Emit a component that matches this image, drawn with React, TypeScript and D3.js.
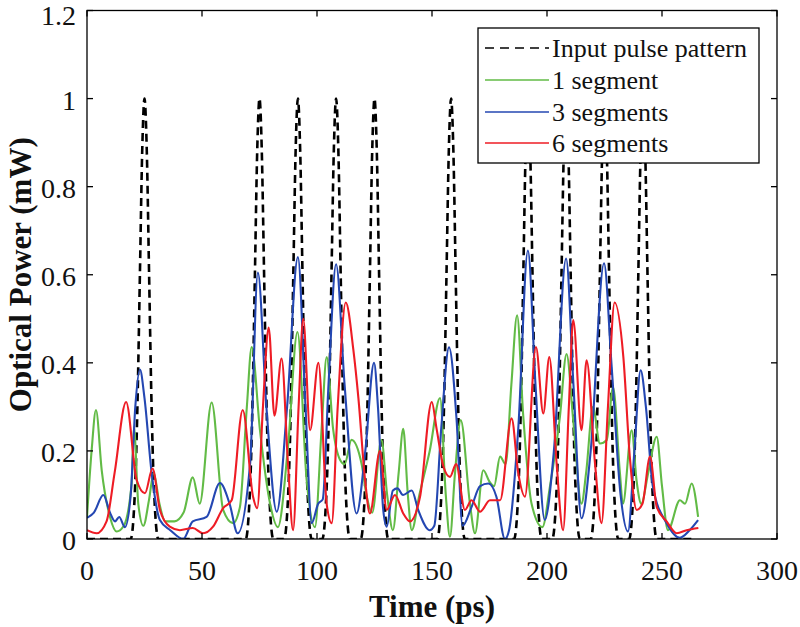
import React from 'react';
import * as d3 from 'd3';

const W = 800;
const H = 627;
const PLOT = { left: 87, right: 777, top: 10.5, bottom: 539 };

const xTicks = [0, 50, 100, 150, 200, 250, 300];
const xTickLabels = ['0', '50', '100', '150', '200', '250', '300'];
const yTicks = [0, 0.2, 0.4, 0.6, 0.8, 1, 1.2];
const yTickLabels = ['0', '0.2', '0.4', '0.6', '0.8', '1', '1.2'];

const seriesNames = ['Input pulse pattern', '1 segment', '3 segments', '6 segments'];
const seriesColors = ['#000000', '#62bb46', '#2447b2', '#ee1c25'];

// Input pulse pattern: [time ps, power mW]
const inputPulse: [number, number][] = [
  [0, 0],
  [19, 0], [21, 0.13], [22, 0.32], [23, 0.6], [24, 0.88], [25, 1], [26, 0.88], [27, 0.6], [28, 0.32], [29, 0.13], [31, 0],
  [69, 0], [71, 0.13], [72, 0.32], [73, 0.6], [74, 0.88], [75, 1], [76, 0.88], [77, 0.6], [78, 0.32], [79, 0.13], [81, 0],
  [85.7, 0], [87.7, 0.13], [88.7, 0.32], [89.7, 0.6], [90.7, 0.88], [91.7, 1], [92.7, 0.88], [93.7, 0.6], [94.7, 0.32], [95.7, 0.13], [97.7, 0],
  [102.3, 0], [104.3, 0.13], [105.3, 0.32], [106.3, 0.6], [107.3, 0.88], [108.3, 1], [109.3, 0.88], [110.3, 0.6], [111.3, 0.32], [112.3, 0.13], [114.3, 0],
  [119, 0], [121, 0.13], [122, 0.32], [123, 0.6], [124, 0.88], [125, 1], [126, 0.88], [127, 0.6], [128, 0.32], [129, 0.13], [131, 0],
  [152.3, 0], [154.3, 0.13], [155.3, 0.32], [156.3, 0.6], [157.3, 0.88], [158.3, 1], [159.3, 0.88], [160.3, 0.6], [161.3, 0.32], [162.3, 0.13], [164.3, 0],
  [185.7, 0], [187.7, 0.13], [188.7, 0.32], [189.7, 0.6], [190.7, 0.88], [191.7, 1], [192.7, 0.88], [193.7, 0.6], [194.7, 0.32], [195.7, 0.13], [197.7, 0],
  [202.3, 0], [204.3, 0.13], [205.3, 0.32], [206.3, 0.6], [207.3, 0.88], [208.3, 1], [209.3, 0.88], [210.3, 0.6], [211.3, 0.32], [212.3, 0.13], [214.3, 0],
  [219, 0], [221, 0.13], [222, 0.32], [223, 0.6], [224, 0.88], [225, 1], [226, 0.88], [227, 0.6], [228, 0.32], [229, 0.13], [231, 0],
  [235.7, 0], [237.7, 0.13], [238.7, 0.32], [239.7, 0.6], [240.7, 0.88], [241.7, 1], [242.7, 0.88], [243.7, 0.6], [244.7, 0.32], [245.7, 0.13], [247.7, 0],
  [264, 0],
];

// 1 segment (green)
const oneSegment: [number, number][] = [
  [0, 0.05], [2, 0.2], [3.9, 0.293], [6.4, 0.156], [10, 0.05], [12.9, 0.017], [16, 0.03], [19.4, 0.126], [20.4, 0.255],
  [22.3, 0.08], [24.5, 0.03], [27, 0.09], [29, 0.15], [31.5, 0.08], [34, 0.04], [38, 0.04], [42, 0.06], [46, 0.14],
  [49, 0.08], [54.2, 0.31], [59.2, 0.066], [63.5, 0.036], [66.5, 0.073], [69.5, 0.3], [71.6, 0.436], [75.2, 0.247],
  [79.6, 0.08], [83, 0.027], [87.4, 0.21], [91.5, 0.47], [95.5, 0.134], [99.1, 0.027], [102, 0.25], [104.2, 0.413],
  [107, 0.25], [110, 0.18], [112, 0.17], [115, 0.225], [119.4, 0.17], [121.5, 0.1], [124, 0.06], [128, 0.225],
  [130.5, 0.1], [133, 0.02], [135.5, 0.15], [137.5, 0.25], [139.5, 0.1], [141.2, 0.02], [144.5, 0.1], [149, 0.2],
  [153.5, 0.32], [156, 0.1], [157.8, 0.005], [160, 0.15], [162.5, 0.27], [166.5, 0.08], [168.7, 0.013], [172.3, 0.156],
  [175, 0.13], [177, 0.12], [179.6, 0.187], [182, 0.17], [184.5, 0.35], [187, 0.508], [189.6, 0.285], [193.3, 0.08],
  [198, 0.027], [201.3, 0.12], [205.6, 0.277], [208.5, 0.42], [211.4, 0.27], [215, 0.08], [217, 0.15], [220, 0.3],
  [223, 0.217], [226, 0.225], [228.7, 0.345], [231.7, 0.15], [233, 0.08], [236.8, 0.247], [239, 0.13], [241, 0.08],
  [244, 0.15], [247.7, 0.232], [250, 0.12], [252.6, 0.02], [257.8, 0.088], [260, 0.08], [262.9, 0.126], [265.7, 0.05],
];

// 3 segments (blue)
const threeSegments: [number, number][] = [
  [0, 0.048], [3, 0.06], [7.1, 0.1], [10, 0.06], [12.2, 0.04], [14, 0.05], [16.5, 0.027], [19, 0.1], [21, 0.3],
  [23, 0.385], [25, 0.32], [28.1, 0.15], [31.7, 0.043], [36.2, 0.02], [41.8, 0.0], [46, 0.04], [52, 0.05],
  [57.8, 0.127], [62, 0.08], [65.5, 0.013], [70.9, 0.17], [74.3, 0.605], [78, 0.3], [82.5, 0.062], [87, 0.3],
  [91.7, 0.64], [95, 0.3], [97.7, 0.036], [100.5, 0.08], [102.5, 0.09], [105, 0.35], [108.3, 0.624], [112, 0.35],
  [117.2, 0.058], [121, 0.2], [124.8, 0.4], [126.5, 0.3], [128.8, 0.066], [130.3, 0.028], [133, 0.11], [135, 0.115],
  [137.4, 0.1], [141.2, 0.11], [144, 0.066], [149, 0.02], [151, 0.03], [154, 0.25], [157.4, 0.435], [160.7, 0.27],
  [163.3, 0.03], [167, 0.07], [170.9, 0.12], [174.5, 0.126], [178, 0.096], [181.7, 0.0], [183.5, 0.02], [187.5, 0.25],
  [191.7, 0.655], [195, 0.35], [199, 0.043], [203, 0.2], [208.3, 0.637], [211.5, 0.35], [215, 0.047], [219, 0.2],
  [224.8, 0.626], [228, 0.4], [232, 0.1], [235.2, 0.017], [238, 0.2], [240.7, 0.383], [243, 0.3], [246, 0.12],
  [252, 0.036], [257.8, 0.003], [262, 0.02], [265.7, 0.043],
];

// 6 segments (red)
const sixSegments: [number, number][] = [
  [0, 0.02], [4.2, 0.013], [8.5, 0.04], [12, 0.15], [17, 0.311], [21.6, 0.134], [25.2, 0.104], [28.5, 0.16],
  [31.7, 0.066], [36, 0.028], [40.4, 0.02], [46, 0.025], [50.4, 0.013], [54.8, 0.028], [59.2, 0.07], [62.9, 0.088],
  [67.7, 0.293], [72.2, 0.096], [74, 0.07], [76.5, 0.3], [79, 0.48], [81.5, 0.28], [84.6, 0.41], [87.4, 0.17],
  [89.6, 0.02], [92, 0.3], [94, 0.5], [97, 0.247], [100.6, 0.4], [104.2, 0.08], [106.4, 0.036], [109, 0.3],
  [112.5, 0.537], [115.8, 0.43], [118, 0.32], [120.9, 0.134], [123, 0.058], [127.4, 0.2], [130.3, 0.066], [133.9, 0.1],
  [137.5, 0.058], [140.4, 0.04], [144.8, 0.096], [149.9, 0.311], [152, 0.25], [155, 0.164], [157.8, 0.141], [160.5, 0.17],
  [164.3, 0.066], [167.2, 0.088], [170.9, 0.062], [175.2, 0.088], [179.6, 0.088], [184.6, 0.274], [187.5, 0.15],
  [190.4, 0.096], [195.2, 0.436], [198.4, 0.285], [201, 0.413], [204.2, 0.17], [207, 0.02], [209.5, 0.3], [211.4, 0.497],
  [215, 0.247], [217.2, 0.406], [220.9, 0.17], [223.7, 0.036], [226.5, 0.3], [229.4, 0.537], [233.2, 0.413], [236, 0.187],
  [239, 0.066], [241.5, 0.08], [244.8, 0.187], [247.7, 0.073], [252, 0.04], [256.4, 0.013], [260.7, 0.02], [265.8, 0.025],
];

const FONT = "'Liberation Serif', 'Times New Roman', serif";

export default function App() {
  const x = d3.scaleLinear().domain([0, 300]).range([PLOT.left, PLOT.right]);
  const y = d3.scaleLinear().domain([0, 1.2]).range([PLOT.bottom, PLOT.top]);
  const line = d3
    .line<[number, number]>()
    .x((d) => x(d[0]))
    .y((d) => y(d[1]))
    .curve(d3.curveMonotoneX);

  const allSeries = [inputPulse, oneSegment, threeSegments, sixSegments];
  const tickLen = 6;
  const legend = { x: 478, y: 28, w: 281, h: 135 };
  const rowY = [48, 80, 112, 143];

  return (
    <svg
      width={W}
      height={H}
      style={{ position: 'absolute', left: 0, top: 0, display: 'block', background: '#fff' }}
    >
      <rect x={0} y={0} width={W} height={H} fill="#fff" />
      <defs>
        <clipPath id="plotclip">
          <rect x={PLOT.left} y={PLOT.top} width={PLOT.right - PLOT.left} height={PLOT.bottom - PLOT.top} />
        </clipPath>
      </defs>

      <g clipPath="url(#plotclip)">
        {allSeries.map((s, i) => (
          <path
            key={i}
            d={line(s) || ''}
            fill="none"
            stroke={seriesColors[i]}
            strokeWidth={i === 0 ? 2.6 : 2.1}
            strokeDasharray={i === 0 ? '8,5' : undefined}
            strokeLinejoin="round"
          />
        ))}
      </g>

      {/* axes box */}
      <rect
        x={PLOT.left}
        y={PLOT.top}
        width={PLOT.right - PLOT.left}
        height={PLOT.bottom - PLOT.top}
        fill="none"
        stroke="#000"
        strokeWidth={1.3}
      />

      {xTicks.map((t, i) => (
        <g key={'xt' + i}>
          <line x1={x(t)} x2={x(t)} y1={PLOT.bottom} y2={PLOT.bottom - tickLen} stroke="#000" strokeWidth={1.3} />
          <line x1={x(t)} x2={x(t)} y1={PLOT.top} y2={PLOT.top + tickLen} stroke="#000" strokeWidth={1.3} />
          <text
            x={x(t)}
            y={570}
            textAnchor="middle"
            dominantBaseline="central"
            fontFamily={FONT}
            fontSize={28}
            fill="#111"
          >
            {xTickLabels[i]}
          </text>
        </g>
      ))}

      {yTicks.map((t, i) => (
        <g key={'yt' + i}>
          <line x1={PLOT.left} x2={PLOT.left + tickLen} y1={y(t)} y2={y(t)} stroke="#000" strokeWidth={1.3} />
          <line x1={PLOT.right} x2={PLOT.right - tickLen} y1={y(t)} y2={y(t)} stroke="#000" strokeWidth={1.3} />
          <text
            x={76}
            y={Math.max(y(t) + 1.5, 15)}
            textAnchor="end"
            dominantBaseline="central"
            fontFamily={FONT}
            fontSize={28}
            fill="#111"
          >
            {yTickLabels[i]}
          </text>
        </g>
      ))}

      <text
        x={(PLOT.left + PLOT.right) / 2}
        y={606}
        textAnchor="middle"
        dominantBaseline="central"
        fontFamily={FONT}
        fontWeight="bold"
        fontSize={31}
        fill="#111"
      >
        Time (ps)
      </text>
      <text
        transform={`translate(20, ${(PLOT.top + PLOT.bottom) / 2}) rotate(-90)`}
        textAnchor="middle"
        dominantBaseline="central"
        fontFamily={FONT}
        fontWeight="bold"
        fontSize={31}
        fill="#111"
      >
        Optical Power (mW)
      </text>

      {/* legend */}
      <rect x={legend.x} y={legend.y} width={legend.w} height={legend.h} fill="#fff" stroke="#000" strokeWidth={1.3} />
      {seriesNames.map((name, i) => (
        <g key={'lg' + i}>
          <line
            x1={485}
            x2={549}
            y1={rowY[i]}
            y2={rowY[i]}
            stroke={seriesColors[i]}
            strokeWidth={1.6}
            strokeDasharray={i === 0 ? '9,6' : undefined}
          />
          <text
            x={552}
            y={rowY[i]}
            dominantBaseline="central"
            fontFamily={FONT}
            fontSize={26}
            fill="#111"
          >
            {name}
          </text>
        </g>
      ))}
    </svg>
  );
}
